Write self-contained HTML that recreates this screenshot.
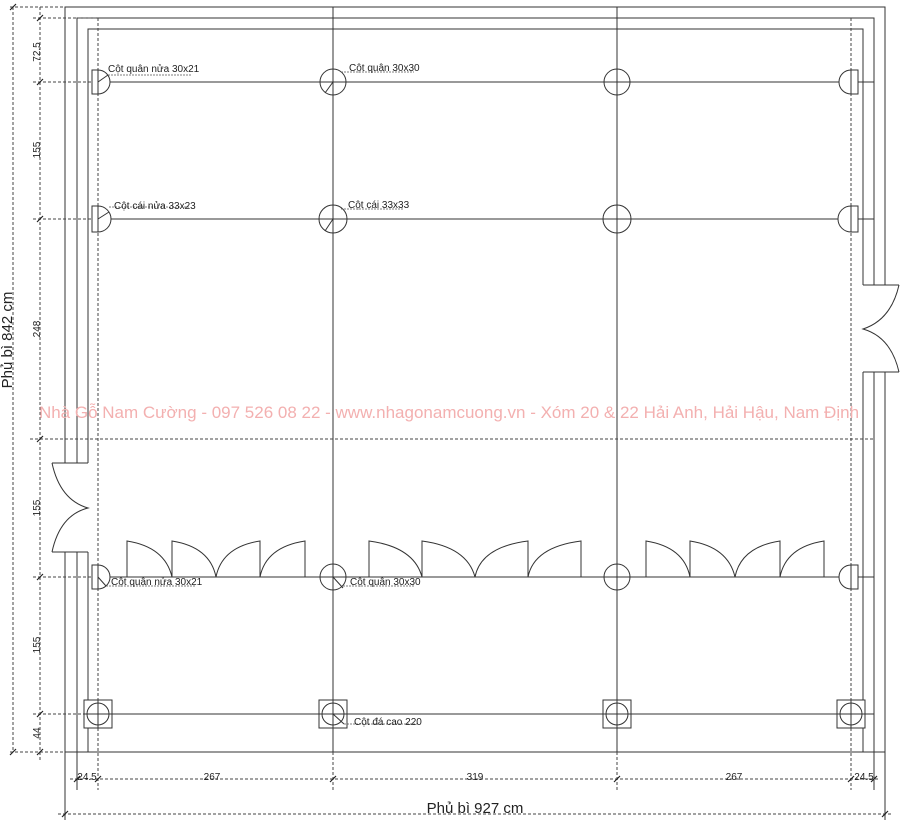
<!DOCTYPE html>
<html><head><meta charset="utf-8"><style>
html,body{margin:0;padding:0;background:#fff;}
svg{display:block;}
text{font-family:"Liberation Sans",sans-serif;fill:#222;}
</style></head><body>
<svg width="900" height="824" viewBox="0 0 900 824" xmlns="http://www.w3.org/2000/svg">
<g stroke="#333" stroke-width="1" fill="none">
<path d="M65,463 V7 H885 V285 M885,372 V752 H65 V552"/>
<path d="M77,463 V18 H874 V285 M874,372 V752 M77,552 V752"/>
<path d="M88,463 V29 H863 V285 M863,372 V752 M88,552 V752"/>
<path d="M52,463 H88 M52,552 H88 M863,285 H899 M863,372 H899"/>
<path d="M65,752 V820 M77,752 V790 M885,752 V820 M874,752 V790"/>
<path d="M333,7 V752 M617,7 V752"/>
<path d="M98,82 H874 M98,219 H874 M98,577 H874 M98,714 H874"/>
</g>
<g stroke="#444" stroke-width="1" fill="none" stroke-dasharray="3,2">
<path d="M98,18 V790 M851,18 V790"/>
<path d="M333,752 V790 M617,752 V790"/>
<path d="M30,439 H874"/>
<path d="M33,18 H98 M33,82 H98 M33,219 H98 M33,577 H98 M33,714 H98 M10,752 H65 M10,7 H65"/>
<path d="M40,7 V760 M13,7 V752"/>
<path d="M70,779 H880 M58,814 H892"/>
</g>
<g stroke="#222" stroke-width="1.2">
<path d="M37,21 L43,15 M37,85 L43,79 M37,222 L43,216 M37,442 L43,436 M37,580 L43,574 M37,717 L43,711 M37,755 L43,749 M10,10 L16,4 M10,755 L16,749"/>
<path d="M74,782 L80,776 M95,782 L101,776 M330,782 L336,776 M614,782 L620,776 M848,782 L854,776 M871,782 L877,776 M62,817 L68,811 M882,817 L888,811"/>
</g>
<g stroke="#333" stroke-width="1" fill="none">
<path d="M52,463 Q60,500 88,508 Q60,515 52,552"/>
<path d="M899,285 Q891,320 863,329 Q891,337 899,372"/>
<path d="M127,577 V541 Q165,547 172,577 V541 Q210,547 216,577 Q222,547 260,541 V577 Q266,547 305,541 V577"/>
<path d="M369,577 V541 Q414,547 422,577 V541 Q467,547 475,577 Q481,547 528,541 V577 Q534,547 581,541 V577"/>
<path d="M646,577 V541 Q684,547 690,577 V541 Q728,547 735,577 Q741,547 780,541 V577 Q786,547 824,541 V577"/>
</g>
<g stroke="#333" stroke-width="1" fill="#fff">
<path d="M92,70 H98 A12,12 0 0 1 98,94 H92 Z"/>
<path d="M92,206 H98 A13,13 0 0 1 98,232 H92 Z"/>
<path d="M92,565 H98 A12,12 0 0 1 98,589 H92 Z"/>
<path d="M858,70 H851 A12,12 0 0 0 851,94 H858 Z"/>
<path d="M858,206 H851 A13,13 0 0 0 851,232 H858 Z"/>
<path d="M858,565 H851 A12,12 0 0 0 851,589 H858 Z"/>
<circle cx="333" cy="82" r="13"/><circle cx="617" cy="82" r="13"/>
<circle cx="333" cy="219" r="14"/><circle cx="617" cy="219" r="14"/>
<circle cx="333" cy="577" r="13"/><circle cx="617" cy="577" r="13"/>
<rect x="84" y="700" width="28" height="28"/><rect x="319" y="700" width="28" height="28"/><rect x="603" y="700" width="28" height="28"/><rect x="837" y="700" width="28" height="28"/>
<circle cx="98" cy="714" r="11"/><circle cx="333" cy="714" r="11"/><circle cx="617" cy="714" r="11"/><circle cx="851" cy="714" r="11"/>
</g>
<g stroke="#333" stroke-width="1" fill="none">
<path d="M98,82 V70 M98,82 V94 M98,219 V206 M98,219 V232 M98,577 V565 M98,577 V589 M851,82 V70 M851,94 V82 M851,206 V232 M851,565 V589"/>
<path d="M333,69 V95 M320,82 H346 M617,69 V95 M604,82 H630 M333,205 V233 M319,219 H347 M617,205 V233 M603,219 H631 M333,564 V590 M320,577 H346 M617,564 V590 M604,577 H630"/>
<path d="M98,700 V728 M84,714 H112 M333,700 V728 M319,714 H347 M617,700 V728 M603,714 H631 M851,700 V728 M837,714 H865"/>
<path d="M98,82 L108,75 M98,219 L109,212 M98,577 L106,586 M333,82 L325,93 M333,219 L325,231 M333,577 L343,588 M333,714 L344,724"/>
</g>
<g stroke="#555" stroke-width="0.8" stroke-dasharray="2,1" fill="none">
<path d="M108,75 H192 M109,207 H190 M106,586 H195 M341,72 H414 M341,209 H404 M343,586 H415 M344,724 H418"/>
</g>
<g font-size="10">
<text x="108" y="72">Cột quân nửa 30x21</text>
<text x="114" y="209">Cột cái nửa 33x23</text>
<text x="111" y="585">Cột quân nửa 30x21</text>
<text x="349" y="71">Cột quân 30x30</text>
<text x="348" y="208">Cột cái 33x33</text>
<text x="350" y="585">Cột quân 30x30</text>
<text x="354" y="725">Cột đá cao 220</text>
</g>
<g font-size="10">
<text transform="translate(40,52) rotate(-90)" text-anchor="middle">72.5</text>
<text transform="translate(40,150) rotate(-90)" text-anchor="middle">155</text>
<text transform="translate(40,329) rotate(-90)" text-anchor="middle">248</text>
<text transform="translate(40,508) rotate(-90)" text-anchor="middle">155</text>
<text transform="translate(40,645) rotate(-90)" text-anchor="middle">155</text>
<text transform="translate(40,733) rotate(-90)" text-anchor="middle">44</text>
<text x="87" y="780" text-anchor="middle">24.5</text>
<text x="212" y="780" text-anchor="middle">267</text>
<text x="475" y="780" text-anchor="middle">319</text>
<text x="734" y="780" text-anchor="middle">267</text>
<text x="864" y="780" text-anchor="middle">24.5</text>
</g>
<text x="475" y="813" font-size="15" text-anchor="middle">Phủ bì 927 cm</text>
<text transform="translate(12,340) rotate(-90)" font-size="15" text-anchor="middle">Phủ bì 842 cm</text>
<text x="449" y="418" font-size="17" text-anchor="middle" style="fill:#f3b0b0">Nhà Gỗ Nam Cường - 097 526 08 22 - www.nhagonamcuong.vn - Xóm 20 &amp; 22 Hải Anh, Hải Hậu, Nam Định</text>
</svg>
</body></html>
